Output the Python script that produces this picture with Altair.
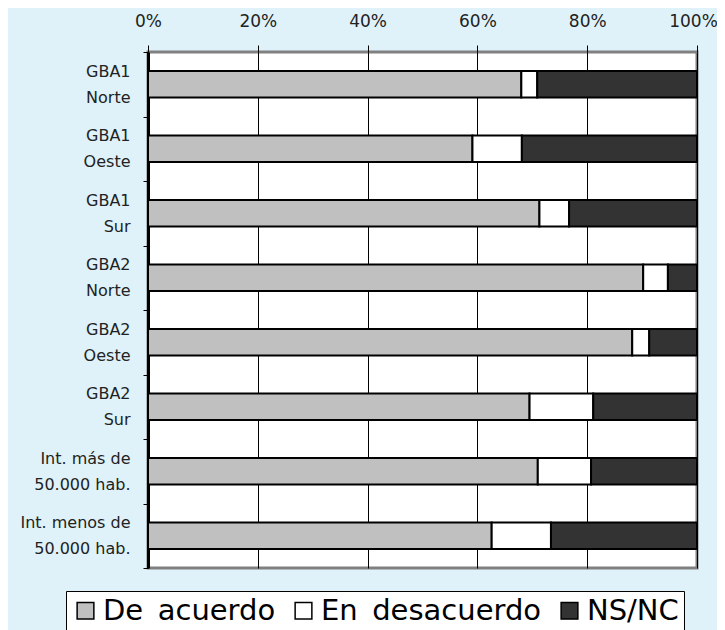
import altair as alt
import pandas as pd

categories = ["GBA1\nNorte", "GBA1\nOeste", "GBA1\nSur", "GBA2\nNorte", "GBA2\nOeste",
              "GBA2\nSur", "Int. más de\n50.000 hab.", "Int. menos de\n50.000 hab."]
series = ["De acuerdo", "En desacuerdo", "NS/NC"]
de_acuerdo = [68.0, 59.1, 71.3, 90.2, 88.2, 69.5, 71.0, 62.6]
en_desacuerdo = [2.9, 9.0, 5.4, 4.5, 3.1, 11.6, 9.7, 10.8]
ns_nc = [29.1, 31.9, 23.3, 5.3, 8.7, 18.9, 19.3, 26.6]
colors = ["#C0C0C0", "#FFFFFF", "#333333"]

rows = []
for i, c in enumerate(categories):
    for j, (s, vals) in enumerate(zip(series, [de_acuerdo, en_desacuerdo, ns_nc])):
        rows.append({"cat": c, "serie": s, "valor": vals[i] / 100.0, "orden": j})
df = pd.DataFrame(rows)

chart = alt.Chart(df).mark_bar(
    stroke="black", strokeWidth=2, height=alt.RelativeBandSize(0.41)
).encode(
    x=alt.X("valor:Q", stack="normalize",
            scale=alt.Scale(domain=[0, 1], nice=False),
            axis=alt.Axis(orient="top", format="%", values=[0, 0.2, 0.4, 0.6, 0.8, 1.0],
                          title=None, grid=True, gridColor="black", gridWidth=1, gridOpacity=1,
                          tickColor="black", tickSize=7, domain=False, labelFlush=False,
                          labelOffset=alt.ExprRef("datum.value == 1 ? -4 : 0"),
                          labelFont="DejaVu Sans", labelFontSize=17,
                          labelColor="#222222", labelPadding=15)),
    y=alt.Y("cat:N", sort=categories,
            scale=alt.Scale(paddingInner=0, paddingOuter=0),
            axis=alt.Axis(title=None, tickBand="extent", grid=False, tickColor="black",
                          tickSize=5, domainColor="black", domainWidth=3,
                          labelExpr="split(datum.label, '\\n')", labelLineHeight=26,
                          labelOffset=-13,
                          labelFont="DejaVu Sans", labelFontSize=16, labelColor="#222222",
                          labelPadding=13, labelAlign="right")),
    color=alt.Color("serie:N", sort=series,
                    scale=alt.Scale(domain=series, range=colors),
                    legend=alt.Legend(title=None, orient="none", direction="horizontal",
                                      legendX=-82, legendY=539, columns=3,
                                      symbolType="square", symbolSize=280,
                                      symbolStrokeColor="black", symbolStrokeWidth=1.5,
                                      symbolOpacity=1,
                                      labelExpr="replace(datum.label, ' ', '\u2002')",
                                      labelFont="DejaVu Sans", labelFontSize=29,
                                      labelColor="black", labelLimit=500,
                                      columnPadding=13, symbolOffset=0,
                                      fillColor="white", strokeColor="black",
                                      padding=5, labelOffset=3)),
    order=alt.Order("orden:Q"),
).properties(
    width=549, height=516,
    background="#DFF2FA",
    padding={"left": 140, "top": 44, "right": 20, "bottom": 80},
    autosize=alt.AutoSizeParams(type="none"),
).configure_view(
    fill="white", stroke="#808080", strokeWidth=3
)

chart.save("out.html", embed_options={"renderer": "svg", "actions": False})
